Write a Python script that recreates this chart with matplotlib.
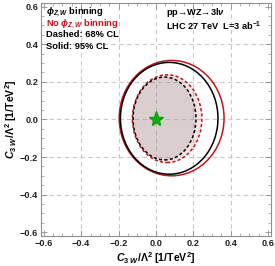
import matplotlib.pyplot as plt
from matplotlib.patches import Ellipse
from matplotlib.ticker import MultipleLocator

plt.rcParams["font.family"] = ["Liberation Sans", "DejaVu Sans"]
plt.rcParams["mathtext.fontset"] = "custom"
plt.rcParams["mathtext.rm"] = "Liberation Sans:bold"
plt.rcParams["mathtext.it"] = "Liberation Sans:italic:bold"
plt.rcParams["mathtext.bf"] = "Liberation Sans:bold"
plt.rcParams["mathtext.sf"] = "Liberation Sans:bold"

# contour ellipses: (center x, center y, width, height)
black_95 = (0.071, 0.006, 0.522, 0.595)
red_95 = (0.084, 0.007, 0.561, 0.614)
black_68 = (0.046, 0.005, 0.337, 0.441)
red_68 = (0.060, 0.004, 0.372, 0.467)

best_fit = (0.0, 0.0)

ticks = [-0.6, -0.4, -0.2, 0.0, 0.2, 0.4, 0.6]
grid_vals = [-0.4, -0.2, 0.0, 0.2, 0.4]

RED = "#c0141c"

fig = plt.figure(figsize=(2.75, 2.66), dpi=100)
ax = fig.add_axes([0.149, 0.113, 0.836, 0.876])

for g in grid_vals:
    ax.axvline(g, color="#c8c8c8", ls=(0, (4, 3)), lw=0.8, zorder=0)
    ax.axhline(g, color="#c8c8c8", ls=(0, (4, 3)), lw=0.8, zorder=0)


def ell(p, **kw):
    return Ellipse((p[0], p[1]), p[2], p[3], **kw)


# fills for 68% regions
ax.add_patch(ell(red_68, facecolor=(0.7, 0.13, 0.13, 0.13), edgecolor="none", zorder=1))
ax.add_patch(ell(black_68, facecolor=(0.65, 0.65, 0.65, 0.32), edgecolor="none", zorder=1))

ax.add_patch(ell(red_95, fill=False, edgecolor=RED, lw=1.1, zorder=3))
ax.add_patch(ell(black_95, fill=False, edgecolor="black", lw=1.1, zorder=3))
ax.add_patch(ell(red_68, fill=False, edgecolor=RED, lw=1.1, ls=(0, (2, 1.5)), zorder=3))
ax.add_patch(ell(black_68, fill=False, edgecolor="black", lw=1.1, ls=(0, (2, 1.5)), zorder=3))

ax.plot(best_fit[0], best_fit[1], marker="*", color="#10b010", ms=11, mec="#10a010", zorder=4)

ax.set_xlim(-0.615, 0.615)
ax.set_ylim(-0.62, 0.62)
ax.set_xticks(ticks)
ax.set_yticks(ticks)
ax.set_xticklabels([f"{t:.1f}".replace("-", "\u2212") for t in ticks])
ax.set_yticklabels([f"{t:.1f}".replace("-", "\u2212") for t in ticks])
ax.xaxis.set_minor_locator(MultipleLocator(0.05))
ax.yaxis.set_minor_locator(MultipleLocator(0.05))
ax.tick_params(which="both", direction="in", top=True, right=True, color="#909090")
ax.tick_params(which="major", length=4, width=0.6, labelsize=6.6, pad=2, labelcolor="#222222")
ax.tick_params(which="minor", length=2, width=0.5)
for lab in ax.get_xticklabels() + ax.get_yticklabels():
    lab.set_fontweight("bold")
for s in ax.spines.values():
    s.set_color("#909090")
    s.set_linewidth(0.8)

label = r"$\mathit{C}_{3\ \mathit{W}}$/$\Lambda^2$ [1/TeV$^2$]"
ax.set_xlabel(label, fontsize=7.6, fontweight="bold", labelpad=2)
ax.set_ylabel(label, fontsize=7.6, fontweight="bold", labelpad=1)

kw = dict(transform=ax.transAxes, fontsize=6.7, fontweight="bold", va="top")
ax.text(0.02, 0.99, r"$\mathit{\phi}_{\mathit{Z,W}}$ binning", color="black", **kw)
ax.text(0.02, 0.937, r"No $\mathit{\phi}_{\mathit{Z,W}}$ binning", color=RED, **kw)
ax.text(0.02, 0.884, "Dashed: 68% CL", color="black", **kw)
ax.text(0.02, 0.831, "Solid: 95% CL", color="black", **kw)
ax.text(0.545, 0.985, "pp\u2192WZ\u21923l" + r"$\mathit{\nu}$", color="black", **kw)
ax.text(0.545, 0.93, r"LHC 27 TeV  L=3 ab$^{-1}$", color="black", **kw)

fig.savefig("out.png", dpi=100)
